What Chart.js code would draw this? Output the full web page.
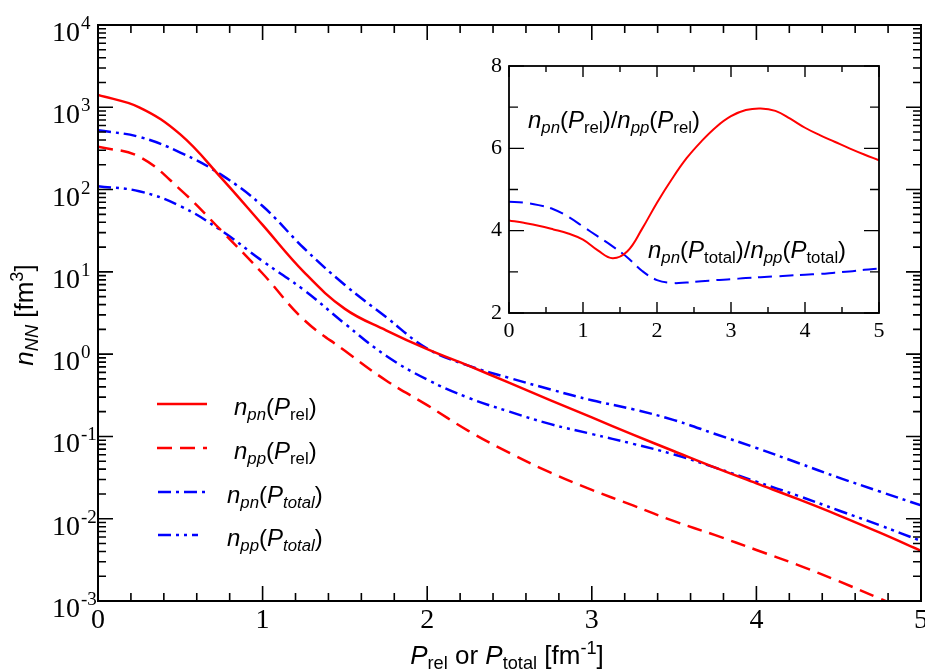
<!DOCTYPE html>
<html>
<head>
<meta charset="utf-8">
<script src="https://cdn.jsdelivr.net/npm/chart.js@4.4.1/dist/chart.umd.min.js"></script>
<style>
html, body { margin: 0; padding: 0; background: #fff; }
#wrap { position: relative; width: 925px; height: 671px; }
#main { position: absolute; left: 0; top: 0; }
#inset { position: absolute; left: 460px; top: 40px; }
</style>
</head>
<body>
<div id="wrap">
  <canvas id="main" width="925" height="671"></canvas>
  <canvas id="inset" width="440" height="310"></canvas>
</div>
<script>
// momentum grid (fm^-1) for the main panel
const momentum = [0,0.25,0.5,0.75,1,1.25,1.5,1.75,2,2.25,2.5,2.75,3,3.25,3.5,3.75,4,4.25,4.5,4.75,5];
// n_pn(P_rel)
const npnRel = [1413,1000,468,138,37.2,10.0,3.55,1.95,1.15,0.724,0.447,0.275,0.17,0.105,0.0661,0.0417,0.0269,0.0174,0.011,0.00676,0.00407];
// n_pp(P_rel)
const nppRel = [331,251,100,31.6,9.55,2.63,1.1,0.479,0.24,0.117,0.0631,0.0363,0.0224,0.0145,0.00933,0.00631,0.00417,0.00275,0.00174,0.00107,0.000661];
// n_pn(P_total)
const npnTotal = [525,437,282,151,63.1,19.5,6.92,2.82,1.17,0.724,0.513,0.372,0.275,0.214,0.158,0.107,0.0724,0.0479,0.0316,0.0214,0.0145];
// n_pp(P_total)
const nppTotal = [110,95.5,63.1,31.6,13.5,6.03,2.34,0.955,0.49,0.295,0.2,0.141,0.107,0.0813,0.0603,0.0417,0.0282,0.0191,0.0126,0.00832,0.00537];

// inset: ratios
const ratioX = [0,0.2,0.4,0.6,0.8,1,1.2,1.4,1.6,1.8,2,2.2,2.4,2.6,2.8,3,3.2,3.4,3.6,3.8,4,4.2,4.4,4.6,4.8,5];
const ratioRel = [4.25,4.19,4.12,4.03,3.93,3.78,3.52,3.33,3.5,4.05,4.68,5.25,5.76,6.17,6.52,6.78,6.93,6.97,6.91,6.72,6.5,6.32,6.16,6.0,5.85,5.71];
const ratioTotal = [4.7,4.68,4.62,4.52,4.34,4.1,3.86,3.62,3.35,3.02,2.8,2.73,2.74,2.77,2.8,2.82,2.85,2.87,2.89,2.91,2.93,2.95,2.98,3.01,3.05,3.08];

const mainXTicks = [0,1,2,3,4,5];
const mainYExp = [-3,-2,-1,0,1,2,3,4];
const insetXTicks = [0,1,2,3,4,5];
const insetYTicks = [2,4,6,8];

const RED = 'rgb(255,0,0)';
const BLUE = 'rgb(0,0,255)';
const SANS = "'Liberation Sans', Arial, sans-serif";
const SERIF = "'Liberation Serif', 'Times New Roman', serif";

function pts(xs, ys) { return xs.map((x, i) => ({x: x, y: ys[i]})); }

// draw a run of text pieces: {t, i: italic, s: 'sub' | 'sup'}
function richWidth(ctx, segs, size) {
  let w = 0;
  segs.forEach(s => {
    const sz = s.s ? size * 0.7 : size;
    ctx.font = (s.i ? 'italic ' : '') + sz + 'px ' + SANS;
    w += ctx.measureText(s.t).width;
  });
  return w;
}
function drawRich(ctx, segs, x, y, size, align) {
  let cx = x;
  if (align === 'center') cx = x - richWidth(ctx, segs, size) / 2;
  ctx.textAlign = 'left';
  ctx.textBaseline = 'alphabetic';
  segs.forEach(s => {
    const sz = s.s ? size * 0.7 : size;
    const dy = s.s === 'sub' ? size * 0.2 : (s.s === 'sup' ? -size * 0.38 : 0);
    ctx.font = (s.i ? 'italic ' : '') + sz + 'px ' + SANS;
    ctx.fillText(s.t, cx, y + dy);
    cx += ctx.measureText(s.t).width;
  });
}

function label(pair, arg, italicSub) {
  return [{t: 'n', i: 1}, {t: pair, i: 1, s: 'sub'}, {t: '('}, {t: 'P', i: 1},
          {t: arg, i: italicSub, s: 'sub'}, {t: ')'}];
}

const mainDecor = {
  id: 'mainDecor',
  afterDatasetsDraw(chart) {
    const ctx = chart.ctx, a = chart.chartArea;
    const x = chart.scales.x, y = chart.scales.y;
    ctx.save();
    ctx.strokeStyle = '#000';
    ctx.fillStyle = '#000';
    ctx.lineWidth = 1.6;
    ctx.beginPath();
    for (let k = 0; k <= 25; k++) {
      const px = x.getPixelForValue(k * 0.2);
      const len = k % 5 === 0 ? 15 : 8;
      ctx.moveTo(px, a.bottom); ctx.lineTo(px, a.bottom - len);
      ctx.moveTo(px, a.top); ctx.lineTo(px, a.top + len);
    }
    for (let e = -3; e < 4; e++) {
      for (let m = 1; m < 10; m++) {
        const py = y.getPixelForValue(m * Math.pow(10, e));
        const len = m === 1 ? 15 : 8;
        ctx.moveTo(a.left, py); ctx.lineTo(a.left + len, py);
        ctx.moveTo(a.right, py); ctx.lineTo(a.right - len, py);
      }
    }
    ctx.stroke();
    ctx.lineWidth = 2;
    ctx.strokeRect(a.left, a.top, a.right - a.left, a.bottom - a.top);

    // tick labels
    ctx.font = '28px ' + SERIF;
    ctx.textAlign = 'center';
    ctx.textBaseline = 'alphabetic';
    mainXTicks.forEach(v => ctx.fillText(String(v), x.getPixelForValue(v), 628));
    mainYExp.forEach(e => {
      const py = y.getPixelForValue(Math.pow(10, e));
      ctx.font = '28px ' + SERIF;
      ctx.textAlign = 'right';
      ctx.fillText('10', 80, py + 16);
      ctx.font = '19px ' + SERIF;
      ctx.textAlign = 'left';
      ctx.fillText(e < 0 ? '-' + (-e) : String(e), 81, py + 4);
    });

    // axis titles
    drawRich(ctx, [{t: 'P', i: 1}, {t: 'rel', s: 'sub'}, {t: ' or '}, {t: 'P', i: 1},
                   {t: 'total', s: 'sub'}, {t: ' [fm'}, {t: '-1', s: 'sup'}, {t: ']'}],
             507, 664, 26, 'center');
    ctx.save();
    ctx.translate(33, 315);
    ctx.rotate(-Math.PI / 2);
    drawRich(ctx, [{t: 'n', i: 1}, {t: 'NN', i: 1, s: 'sub'}, {t: ' [fm'}, {t: '3', s: 'sup'}, {t: ']'}],
             0, 0, 26, 'center');
    ctx.restore();

    // legend
    const rows = [
      {y: 404, x0: 157, x1: 207, tx: 234, segs: label('pn', 'rel', 0)},
      {y: 448, x0: 157, x1: 207, tx: 234, segs: label('pp', 'rel', 0)},
      {y: 492, x0: 158, x1: 207, tx: 227, segs: label('pn', 'total', 1)},
      {y: 535, x0: 158, x1: 198, tx: 227, segs: label('pp', 'total', 1)}
    ];
    rows.forEach((r, i) => {
      const ds = chart.data.datasets[i];
      ctx.save();
      ctx.strokeStyle = ds.borderColor;
      ctx.lineWidth = ds.borderWidth;
      ctx.setLineDash(ds.borderDash || []);
      ctx.beginPath();
      ctx.moveTo(r.x0, r.y); ctx.lineTo(r.x1, r.y);
      ctx.stroke();
      ctx.restore();
      ctx.fillStyle = '#000';
      drawRich(ctx, r.segs, r.tx, r.y + 11, 24);
    });
    ctx.restore();
  }
};

new Chart(document.getElementById('main').getContext('2d'), {
  type: 'line',
  data: {
    datasets: [
      {label: 'npn(Prel)', data: pts(momentum, npnRel), borderColor: RED, borderWidth: 2.5, borderDash: []},
      {label: 'npp(Prel)', data: pts(momentum, nppRel), borderColor: RED, borderWidth: 2.5, borderDash: [15, 8]},
      {label: 'npn(Ptotal)', data: pts(momentum, npnTotal), borderColor: BLUE, borderWidth: 2.5, borderDash: [13, 5, 3, 5]},
      {label: 'npp(Ptotal)', data: pts(momentum, nppTotal), borderColor: BLUE, borderWidth: 2.5, borderDash: [13, 5, 3, 5, 3, 5]}
    ]
  },
  options: {
    responsive: false,
    devicePixelRatio: 1,
    animation: false,
    layout: {padding: {left: 98, right: 4, top: 25, bottom: 70}},
    elements: {point: {radius: 0}, line: {tension: 0.4, fill: false}},
    scales: {
      x: {type: 'linear', min: 0, max: 5, display: false},
      y: {type: 'logarithmic', min: 0.001, max: 10000, display: false}
    },
    plugins: {legend: {display: false}, tooltip: {enabled: false}}
  },
  plugins: [mainDecor]
});

const insetDecor = {
  id: 'insetDecor',
  afterDatasetsDraw(chart) {
    const ctx = chart.ctx, a = chart.chartArea;
    const x = chart.scales.x, y = chart.scales.y;
    ctx.save();
    ctx.strokeStyle = '#000';
    ctx.fillStyle = '#000';
    ctx.lineWidth = 1.4;
    ctx.beginPath();
    for (let k = 0; k <= 10; k++) {
      const px = x.getPixelForValue(k * 0.5);
      const len = k % 2 === 0 ? 11 : 6;
      ctx.moveTo(px, a.bottom); ctx.lineTo(px, a.bottom - len);
      ctx.moveTo(px, a.top); ctx.lineTo(px, a.top + len);
    }
    for (let v = 2; v <= 8; v++) {
      const py = y.getPixelForValue(v);
      const len = v % 2 === 0 ? 15 : 9;
      ctx.moveTo(a.left, py); ctx.lineTo(a.left + len, py);
      ctx.moveTo(a.right, py); ctx.lineTo(a.right - len, py);
    }
    ctx.stroke();
    ctx.lineWidth = 1.8;
    ctx.strokeRect(a.left, a.top, a.right - a.left, a.bottom - a.top);

    ctx.font = '22px ' + SERIF;
    ctx.textAlign = 'center';
    ctx.textBaseline = 'alphabetic';
    insetXTicks.forEach(v => ctx.fillText(String(v), x.getPixelForValue(v), 297));
    ctx.textAlign = 'right';
    ctx.textBaseline = 'middle';
    insetYTicks.forEach(v => ctx.fillText(String(v), 42, y.getPixelForValue(v)));

    drawRich(ctx, label('pn', 'rel', 0).concat([{t: '/'}], label('pp', 'rel', 0)), 68, 88, 24);
    drawRich(ctx, label('pn', 'total', 0).concat([{t: '/'}], label('pp', 'total', 0)), 188, 218, 24);
    ctx.restore();
  }
};

new Chart(document.getElementById('inset').getContext('2d'), {
  type: 'line',
  data: {
    datasets: [
      {label: 'rel', data: pts(ratioX, ratioRel), borderColor: RED, borderWidth: 2, borderDash: []},
      {label: 'total', data: pts(ratioX, ratioTotal), borderColor: BLUE, borderWidth: 2, borderDash: [14, 7]}
    ]
  },
  options: {
    responsive: false,
    devicePixelRatio: 1,
    animation: false,
    layout: {padding: {left: 49, right: 21, top: 26, bottom: 37}},
    elements: {point: {radius: 0}, line: {tension: 0.4, fill: false}},
    scales: {
      x: {type: 'linear', min: 0, max: 5, display: false},
      y: {type: 'linear', min: 2, max: 8, display: false}
    },
    plugins: {legend: {display: false}, tooltip: {enabled: false}}
  },
  plugins: [insetDecor]
});
</script>
</body>
</html>
